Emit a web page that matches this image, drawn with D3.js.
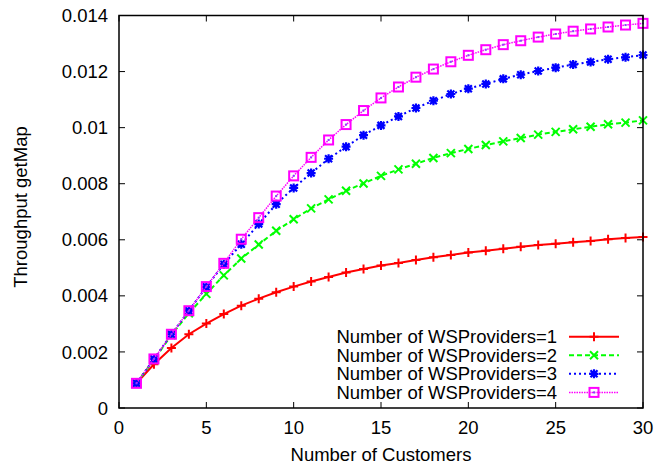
<!DOCTYPE html>
<html><head><meta charset="utf-8">
<script src="https://cdn.jsdelivr.net/npm/d3@7"></script>
<style>
html,body{margin:0;padding:0;background:#fff;}
svg text{font-family:"Liberation Sans",Arial,Helvetica,sans-serif;fill:#000;}
</style></head>
<body>
<svg id="chart" width="657" height="470"></svg>
<script>
const customers = d3.range(1, 31);
const providers1 = [0.00088,0.00156,0.00214,0.00263,0.00301,0.00335,0.00365,0.00390,0.00413,0.00433,
  0.00451,0.00467,0.00483,0.00496,0.00508,0.00517,0.00528,0.00538,0.00546,0.00555,
  0.00561,0.00568,0.00575,0.00581,0.00586,0.00591,0.00596,0.00602,0.00606,0.00610];
const providers2 = [0.00088,0.00172,0.00260,0.00338,0.00407,0.00473,0.00533,0.00583,0.00632,0.00673,
  0.00712,0.00744,0.00775,0.00801,0.00828,0.00851,0.00871,0.00892,0.00909,0.00924,
  0.00938,0.00951,0.00963,0.00975,0.00985,0.00994,0.01003,0.01012,0.01018,0.01026];
const providers3 = [0.00088,0.00175,0.00263,0.00347,0.00432,0.00513,0.00584,0.00656,0.00727,0.00785,
  0.00838,0.00889,0.00932,0.00973,0.01008,0.01040,0.01070,0.01096,0.01120,0.01139,
  0.01156,0.01174,0.01189,0.01202,0.01214,0.01225,0.01234,0.01244,0.01251,0.01259];
const providers4 = [0.00088,0.00175,0.00263,0.00347,0.00433,0.00516,0.00602,0.00679,0.00756,0.00828,
  0.00894,0.00956,0.01011,0.01061,0.01106,0.01145,0.01180,0.01209,0.01235,0.01258,
  0.01278,0.01296,0.01310,0.01323,0.01334,0.01344,0.01352,0.01359,0.01366,0.01372];
const seriesNames = ["Number of WSProviders=1","Number of WSProviders=2","Number of WSProviders=3","Number of WSProviders=4"];
const xTicks = [0,5,10,15,20,25,30];
const yTicks = [0,0.002,0.004,0.006,0.008,0.01,0.012,0.014];
const yTickLabels = ["0","0.002","0.004","0.006","0.008","0.01","0.012","0.014"];
const xTitle = "Number of Customers";
const yTitle = "Throughput getMap";

const allSeries = [providers1, providers2, providers3, providers4];
const styles = [
  {color:"#ff0000", dash:null, width:2, marker:"plus"},
  {color:"#00ff00", dash:"5,3", width:2, marker:"cross"},
  {color:"#0000ff", dash:"2,3", width:2, marker:"star"},
  {color:"#ff00ff", dash:"1.5,1", width:1.5, marker:"square"}
];

const svg = d3.select("#chart");
const L = 119, R = 643, T = 15.5, B = 408;
const x = d3.scaleLinear().domain([0,30]).range([L,R]);
const y = d3.scaleLinear().domain([0,0.014]).range([B,T]);
const fs = 18.5;

// ticks (inward, mirrored)
const tl = 6;
const tickG = svg.append("g").attr("stroke","#000").attr("stroke-width",1);
xTicks.forEach(v=>{
  tickG.append("line").attr("x1",x(v)).attr("x2",x(v)).attr("y1",B).attr("y2",B-tl);
  tickG.append("line").attr("x1",x(v)).attr("x2",x(v)).attr("y1",T).attr("y2",T+tl);
});
yTicks.forEach(v=>{
  tickG.append("line").attr("x1",L).attr("x2",L+tl).attr("y1",y(v)).attr("y2",y(v));
  tickG.append("line").attr("x1",R).attr("x2",R-tl).attr("y1",y(v)).attr("y2",y(v));
});

// tick labels
xTicks.forEach(v=>{
  svg.append("text").attr("x",x(v)).attr("y",433.5).attr("text-anchor","middle")
    .attr("font-size",fs).text(String(v));
});
yTicks.forEach((v,i)=>{
  svg.append("text").attr("x",108).attr("y",y(v)+6.6).attr("text-anchor","end")
    .attr("font-size",fs).text(yTickLabels[i]);
});

// axis titles
svg.append("text").attr("x",(L+R)/2).attr("y",461).attr("text-anchor","middle")
  .attr("font-size",fs).text(xTitle);
svg.append("text").attr("transform","translate(27,207) rotate(-90)").attr("text-anchor","middle")
  .attr("font-size",fs).text(yTitle);

function drawMarker(g, cx, cy, st){
  const c = st.color;
  if(st.marker==="plus"){
    g.append("path").attr("d",`M${cx-4.5},${cy}H${cx+4.5}M${cx},${cy-4.5}V${cy+4.5}`)
      .attr("stroke",c).attr("stroke-width",2).attr("fill","none");
  } else if(st.marker==="cross"){
    g.append("path").attr("d",`M${cx-4},${cy-4}L${cx+4},${cy+4}M${cx-4},${cy+4}L${cx+4},${cy-4}`)
      .attr("stroke",c).attr("stroke-width",2).attr("fill","none");
  } else if(st.marker==="star"){
    g.append("path").attr("d",`M${cx-4.5},${cy}H${cx+4.5}M${cx},${cy-4.5}V${cy+4.5}M${cx-3.5},${cy-3.5}L${cx+3.5},${cy+3.5}M${cx-3.5},${cy+3.5}L${cx+3.5},${cy-3.5}`)
      .attr("stroke",c).attr("stroke-width",2.2).attr("fill","none");
    g.append("rect").attr("x",cx-2.5).attr("y",cy-2.5).attr("width",5).attr("height",5).attr("fill",c);
  } else {
    g.append("rect").attr("x",cx-4.5).attr("y",cy-4.5).attr("width",9).attr("height",9)
      .attr("stroke",c).attr("stroke-width",2).attr("fill","none");
    g.append("rect").attr("x",cx-1).attr("y",cy-1).attr("width",2).attr("height",2).attr("fill","#8844ff");
  }
}

const line = d3.line().x((d,i)=>x(customers[i])).y(d=>y(d));
allSeries.forEach((s,k)=>{
  const st = styles[k];
  const g = svg.append("g");
  g.append("path").datum(s).attr("d",line).attr("fill","none")
    .attr("stroke",st.color).attr("stroke-width",st.width)
    .attr("stroke-dasharray",st.dash);
  s.forEach((v,i)=>drawMarker(g, x(customers[i]), y(v), st));
});

// legend
const legY = [336.7, 355.3, 373.8, 392.4];
seriesNames.forEach((name,k)=>{
  const st = styles[k];
  const g = svg.append("g");
  svg.append("text").attr("x",557).attr("y",legY[k]+6.6).attr("text-anchor","end")
    .attr("font-size",fs).text(name);
  g.append("line").attr("x1",569).attr("x2",619).attr("y1",legY[k]).attr("y2",legY[k])
    .attr("stroke",st.color).attr("stroke-width",st.width).attr("stroke-dasharray",st.dash);
  drawMarker(g, 594, legY[k], st);
});

// frame
svg.append("rect").attr("x",L).attr("y",T).attr("width",R-L).attr("height",B-T)
  .attr("fill","none").attr("stroke","#000").attr("stroke-width",1.5);
</script>
</body></html>
